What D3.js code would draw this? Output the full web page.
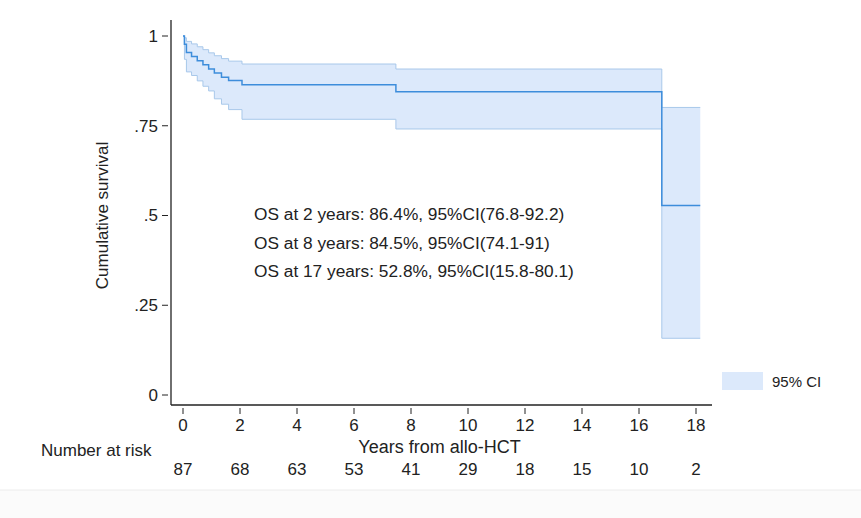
<!DOCTYPE html>
<html>
<head>
<meta charset="utf-8">
<script src="https://cdn.jsdelivr.net/npm/d3@7"></script>
<style>
  body { margin: 0; background: #fff; }
  text { font-family: "Liberation Sans", Arial, sans-serif; fill: #222; }
</style>
</head>
<body>
<div id="chart"></div>
<script>
// Kaplan-Meier steps
const times = [0, 0.05, 0.12, 0.3, 0.5, 0.7, 0.9, 1.1, 1.35, 1.6, 2.07, 7.47, 16.8]
const surv  = [1, 0.977, 0.954, 0.943, 0.931, 0.92, 0.908, 0.897, 0.885, 0.876, 0.864, 0.845, 0.528]
const upper = [1, 0.995, 0.985, 0.978, 0.97, 0.962, 0.953, 0.945, 0.937, 0.93, 0.922, 0.908, 0.801]
const lower = [1, 0.935, 0.9, 0.89, 0.875, 0.86, 0.847, 0.825, 0.81, 0.795, 0.768, 0.741, 0.158]
const endTime = 18.15

const xTicks = [0, 2, 4, 6, 8, 10, 12, 14, 16, 18]
const yTicks = [0, 0.25, 0.5, 0.75, 1]
const yTickLabels = ['0', '.25', '.5', '.75', '1']
const atRisk = [87, 68, 63, 53, 41, 29, 18, 15, 10, 2]
const notes = [
  'OS at 2 years: 86.4%, 95%CI(76.8-92.2)',
  'OS at 8 years: 84.5%, 95%CI(74.1-91)',
  'OS at 17 years: 52.8%, 95%CI(15.8-80.1)'
]

const width = 861
const height = 518

const svg = d3.select('#chart').append('svg')
  .attr('width', width)
  .attr('height', height)

// faint strip at bottom of the original image
svg.append('rect').attr('x', 0).attr('y', 490).attr('width', width).attr('height', height - 490)
  .attr('fill', '#fbfbfb')
svg.append('line').attr('x1', 0).attr('x2', width).attr('y1', 490).attr('y2', 490)
  .attr('stroke', '#ececec')

const x = d3.scaleLinear().domain([0, 18]).range([183, 696])
const y = d3.scaleLinear().domain([0, 1]).range([395, 36])

const pts = times.map((t, i) => ({t, s: surv[i], lo: lower[i], hi: upper[i]}))
pts.push({t: endTime, s: surv[surv.length - 1], lo: lower[lower.length - 1], hi: upper[upper.length - 1]})

// CI band
const area = d3.area()
  .curve(d3.curveStepAfter)
  .x(d => x(d.t))
  .y0(d => y(d.lo))
  .y1(d => y(d.hi))

svg.append('path')
  .datum(pts)
  .attr('d', area)
  .attr('fill', '#dce9fb')
  .attr('stroke', 'none')

const edge = key => d3.line().curve(d3.curveStepAfter).x(d => x(d.t)).y(d => y(d[key]))
;['lo', 'hi'].forEach(k => {
  svg.append('path')
    .datum(pts)
    .attr('d', edge(k))
    .attr('fill', 'none')
    .attr('stroke', '#a8c8ea')
    .attr('stroke-width', 1)
})

// survival curve
svg.append('path')
  .datum(pts)
  .attr('d', edge('s'))
  .attr('fill', 'none')
  .attr('stroke', '#3d8ddb')
  .attr('stroke-width', 1.5)

// axes
const axisColor = '#222'
svg.append('line').attr('x1', 171).attr('x2', 171).attr('y1', 20).attr('y2', 405)
  .attr('stroke', axisColor).attr('stroke-width', 1.3)
svg.append('line').attr('x1', 171).attr('x2', 712).attr('y1', 405).attr('y2', 405)
  .attr('stroke', axisColor).attr('stroke-width', 1.3)

const yt = svg.append('g').selectAll('g').data(yTicks).join('g')
  .attr('transform', d => `translate(0,${y(d)})`)
yt.append('line').attr('x1', 162).attr('x2', 168).attr('stroke', axisColor)
yt.append('text').attr('x', 158).attr('dy', '0.35em').attr('text-anchor', 'end')
  .style('font-size', '17px')
  .text((d, i) => yTickLabels[i])

const xt = svg.append('g').selectAll('g').data(xTicks).join('g')
  .attr('transform', d => `translate(${x(d)},0)`)
xt.append('line').attr('y1', 408).attr('y2', 414).attr('stroke', axisColor)
xt.append('text').attr('y', 431).attr('text-anchor', 'middle')
  .style('font-size', '17px')
  .text(d => d)

// number at risk
svg.append('g').selectAll('text').data(atRisk).join('text')
  .attr('x', (d, i) => x(xTicks[i]))
  .attr('y', 475)
  .attr('text-anchor', 'middle')
  .style('font-size', '17px')
  .text(d => d)

svg.append('text').attr('x', 41).attr('y', 456)
  .style('font-size', '17px')
  .text('Number at risk')

svg.append('text').attr('x', x(9)).attr('y', 453).attr('text-anchor', 'middle')
  .style('font-size', '18px')
  .text('Years from allo-HCT')

svg.append('text')
  .attr('transform', `translate(108,${y(0.5)}) rotate(-90)`)
  .attr('text-anchor', 'middle')
  .style('font-size', '17px')
  .text('Cumulative survival')

// annotations
svg.append('g').selectAll('text').data(notes).join('text')
  .attr('x', 254)
  .attr('y', (d, i) => 220 + i * 28.5)
  .style('font-size', '17.3px')
  .text(d => d)

// legend
svg.append('rect').attr('x', 722).attr('y', 372).attr('width', 41).attr('height', 18)
  .attr('fill', '#dce9fb')
svg.append('text').attr('x', 772).attr('y', 387)
  .style('font-size', '15px')
  .text('95% CI')
</script>
</body>
</html>
